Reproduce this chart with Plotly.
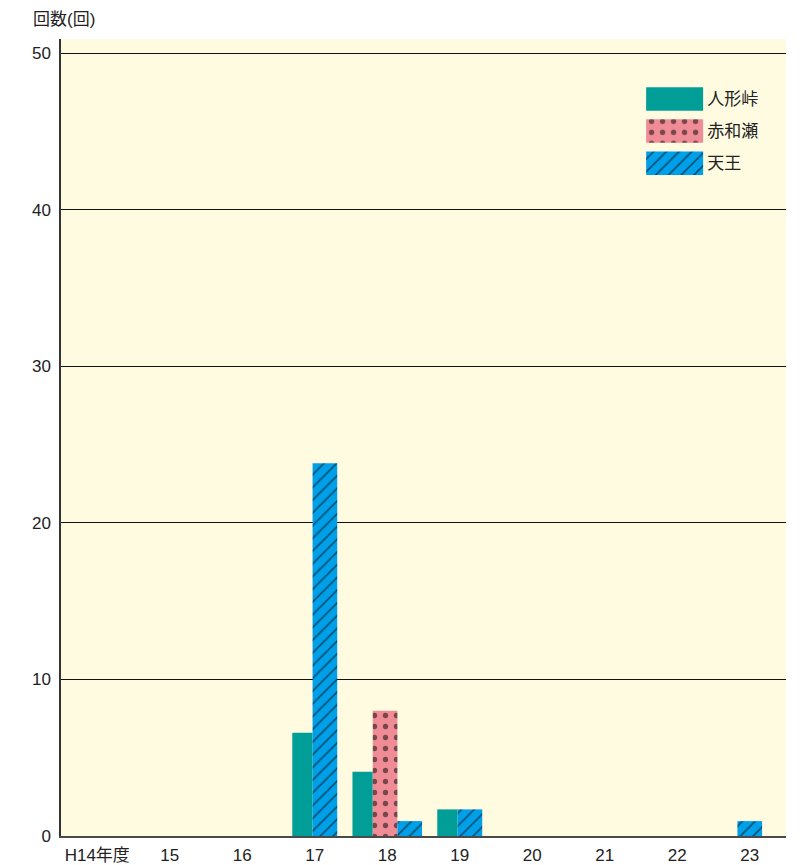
import plotly.graph_objects as go

# 年度ごとの発生回数
years = ["H14年度", "15", "16", "17", "18", "19", "20", "21", "22", "23"]
ningyotoge = [0, 0, 0, 6.6, 4.1, 1.7, 0, 0, 0, 0]
akawase = [0, 0, 0, 0, 8.0, 0, 0, 0, 0, 0]
tenno = [0, 0, 0, 23.8, 0.95, 1.7, 0, 0, 0, 0.95]

series_names = ["人形峠", "赤和瀬", "天王"]
series_values = [ningyotoge, akawase, tenno]
y_ticks = [0, 10, 20, 30, 40, 50]

styles = {
    "人形峠": dict(color="#009E96", pattern=dict(shape="")),
    "赤和瀬": dict(color="#F08C96",
                pattern=dict(shape=".", fgcolor="#000000", size=11, solidity=0.18)),
    "天王": dict(color="#00A0E9",
               pattern=dict(shape="/", fgcolor="#000000", size=9, solidity=0.18)),
}
widths = {"人形峠": 0.28, "赤和瀬": 0.34, "天王": 0.34}

FONT = "Liberation Sans, Noto Sans CJK JP, sans-serif"
BG = "#FEFBE1"

# bars that exist in a year sit side by side, centred on the tick
offsets = {n: [0.0] * len(years) for n in series_names}
for i in range(len(years)):
    present = [n for n, v in zip(series_names, series_values) if v[i] > 0]
    start = -sum(widths[n] for n in present) / 2
    for n in present:
        offsets[n][i] = start
        start += widths[n]

fig = go.Figure()
for name, vals in zip(series_names, series_values):
    fig.add_trace(go.Bar(
        x=years, y=vals, name=name,
        width=widths[name], offset=offsets[name],
        marker=dict(line=dict(width=0), **styles[name]),
        showlegend=False,
    ))

# legend drawn as a small subplot so the swatches can be large
for name in series_names:
    fig.add_trace(go.Bar(
        x=[1], y=[name], orientation="h", width=0.73,
        xaxis="x2", yaxis="y2", showlegend=False, hoverinfo="skip",
        marker=dict(line=dict(width=0), **styles[name]),
    ))

fig.update_layout(
    width=805, height=865,
    margin=dict(l=61, r=19, t=39, b=29),
    paper_bgcolor="white", plot_bgcolor=BG,
    barmode="overlay",
    font=dict(family=FONT, size=17, color="#222"),
    xaxis=dict(
        type="category", categoryorder="array", categoryarray=years,
        showgrid=False, showline=True, linecolor="#4a4a4a", linewidth=2,
        ticks="", tickfont=dict(size=17), zeroline=False,
        automargin=False, ticklabelstandoff=3,
    ),
    yaxis=dict(
        range=[0, 50.9], tickvals=y_ticks, showgrid=True,
        gridcolor="#111", gridwidth=1, zeroline=False,
        showline=True, linecolor="#333", linewidth=1.5,
        ticks="", ticklabelstandoff=5, tickfont=dict(size=17),
        automargin=False,
    ),
    xaxis2=dict(domain=[0.807, 0.886], anchor="y2", range=[0, 1], visible=False,
                automargin=False),
    yaxis2=dict(
        domain=[0.824, 0.945], anchor="x2", side="right",
        categoryorder="array", categoryarray=series_names, autorange="reversed",
        showgrid=False, showline=False, zeroline=False, ticks="",
        ticklabelstandoff=3, tickfont=dict(size=17), automargin=False,
    ),
    annotations=[dict(
        text="回数(回)", xref="paper", yref="paper", x=-0.042, y=1.024,
        xanchor="left", yanchor="middle", showarrow=False,
        font=dict(size=17, color="#222"),
    )],
)

# the page's default body margin would push the figure 8px down and right
fig.write_html(
    "out.html",
    config={"displayModeBar": False},
    post_script="document.body.style.margin='0';",
)
